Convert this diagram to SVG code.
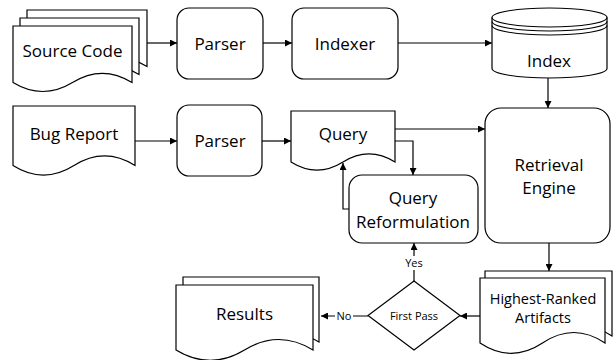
<svg xmlns="http://www.w3.org/2000/svg" width="613" height="360" viewBox="0 0 613 360">
<style>
.s{fill:#fff;stroke:#000;stroke-width:1.2}
.c{fill:none;stroke:#000;stroke-width:1.2}
.t{font-family:"Open Sans","Liberation Sans",sans-serif;font-size:17px;fill:#000;text-anchor:middle}
.m{font-size:14.5px}
.sm{font-size:11px}
</style>
<defs>
<marker id="a" viewBox="0 0 10 10" refX="10" refY="5" markerWidth="7" markerHeight="7" markerUnits="userSpaceOnUse" orient="auto">
<path d="M0,0 L10,5 L0,10 Z" fill="#000"/>
</marker>
</defs>
<rect width="613" height="360" fill="#fff"/>

<g id="source-code">
<path class="s" d="M27,10 H147 V66.5 Q117,48.1 87,66.5 Q57,84.5 27,66.5 Z"/>
<path class="s" d="M20,18 H139 V74.5 Q109.25,56.1 79.5,74.5 Q49.75,92.5 20,74.5 Z"/>
<path class="s" d="M13,26 H132 V82.5 Q102.25,64.1 72.5,82.5 Q42.75,100.5 13,82.5 Z"/>
<text class="t" x="72.5" y="57">Source Code</text>
</g>

<g id="parser1">
<rect class="s" x="177" y="8" width="86" height="71" rx="12"/>
<text class="t" x="220" y="50">Parser</text>
</g>

<g id="indexer">
<rect class="s" x="292" y="8" width="106" height="71" rx="12"/>
<text class="t" x="345" y="50">Indexer</text>
</g>

<g id="index">
<path class="s" d="M492,17.5 A57.5,9.5 0 0 1 607,17.5 V68.5 A57.5,9.5 0 0 1 492,68.5 Z"/>
<path class="c" d="M492,17.5 A57.5,9.5 0 0 0 607,17.5 M492,21.5 A57.5,9.5 0 0 0 607,21.5 M492,25.5 A57.5,9.5 0 0 0 607,25.5"/>
<text class="t" x="549" y="67">Index</text>
</g>

<g id="bug-report">
<path class="s" d="M13,106 H135 V165.5 Q104.5,146.3 74,165.5 Q43.5,184.7 13,165.5 Z"/>
<text class="t" x="74" y="140">Bug Report</text>
</g>

<g id="parser2">
<rect class="s" x="177" y="105" width="85" height="71" rx="12"/>
<text class="t" x="220" y="147">Parser</text>
</g>

<g id="query">
<path class="s" d="M291,111 H395 V162 Q369,145.8 343,162 Q317,178.2 291,162 Z"/>
<text class="t" x="343" y="140">Query</text>
</g>

<g id="query-reformulation">
<rect class="s" x="349" y="175" width="129" height="68" rx="13"/>
<text class="t" x="413" y="204">Query</text>
<text class="t" x="413" y="228">Reformulation</text>
</g>

<g id="retrieval-engine">
<rect class="s" x="485" y="108" width="125" height="135" rx="16"/>
<text class="t" x="549" y="171">Retrieval</text>
<text class="t" x="549" y="194">Engine</text>
</g>

<g id="highest-ranked-artifacts">
<path class="s" d="M485,271 H612 V336 Q580.25,315 548.5,336 Q516.75,356.7 485,336 Z"/>
<path class="s" d="M480,278 H605 V343 Q573.75,322 542.5,343 Q511.25,363.7 480,343 Z"/>
<text class="t m" x="543" y="304">Highest-Ranked</text>
<text class="t m" x="543" y="323">Artifacts</text>
</g>

<g id="first-pass">
<path class="s" d="M414,281 L460,315.5 L414,350 L368,315.5 Z"/>
<text class="t sm" x="414" y="320">First Pass</text>
</g>

<g id="results">
<path class="s" d="M183,277 H319 V342 Q285,321 251,342 Q217,362.7 183,342 Z"/>
<path class="s" d="M176,285 H313 V350 Q278.75,329 244.5,350 Q210.25,370.7 176,350 Z"/>
<text class="t" x="244.5" y="320">Results</text>
</g>

<g id="connectors">
<path class="c" d="M147,43 H177" marker-end="url(#a)"/>
<path class="c" d="M263,43 H292" marker-end="url(#a)"/>
<path class="c" d="M398,43 H492" marker-end="url(#a)"/>
<path class="c" d="M548,78 V108" marker-end="url(#a)"/>
<path class="c" d="M135,141 H177" marker-end="url(#a)"/>
<path class="c" d="M262,141 H291" marker-end="url(#a)"/>
<path class="c" d="M395,129 H485" marker-end="url(#a)"/>
<path class="c" d="M395,141 H413 V175" marker-end="url(#a)"/>
<path class="c" d="M349,209 H343 V163" marker-end="url(#a)"/>
<path class="c" d="M549,243 V271" marker-end="url(#a)"/>
<path class="c" d="M480,316 H460" marker-end="url(#a)"/>
<path class="c" d="M414,281 V243" marker-end="url(#a)"/>
<path class="c" d="M368,316 H321" marker-end="url(#a)"/>
<rect x="403" y="256" width="22" height="14" fill="#fff"/>
<text class="t sm" x="414" y="267">Yes</text>
<rect x="335" y="309" width="18" height="14" fill="#fff"/>
<text class="t sm" x="344" y="320">No</text>
</g>
</svg>
